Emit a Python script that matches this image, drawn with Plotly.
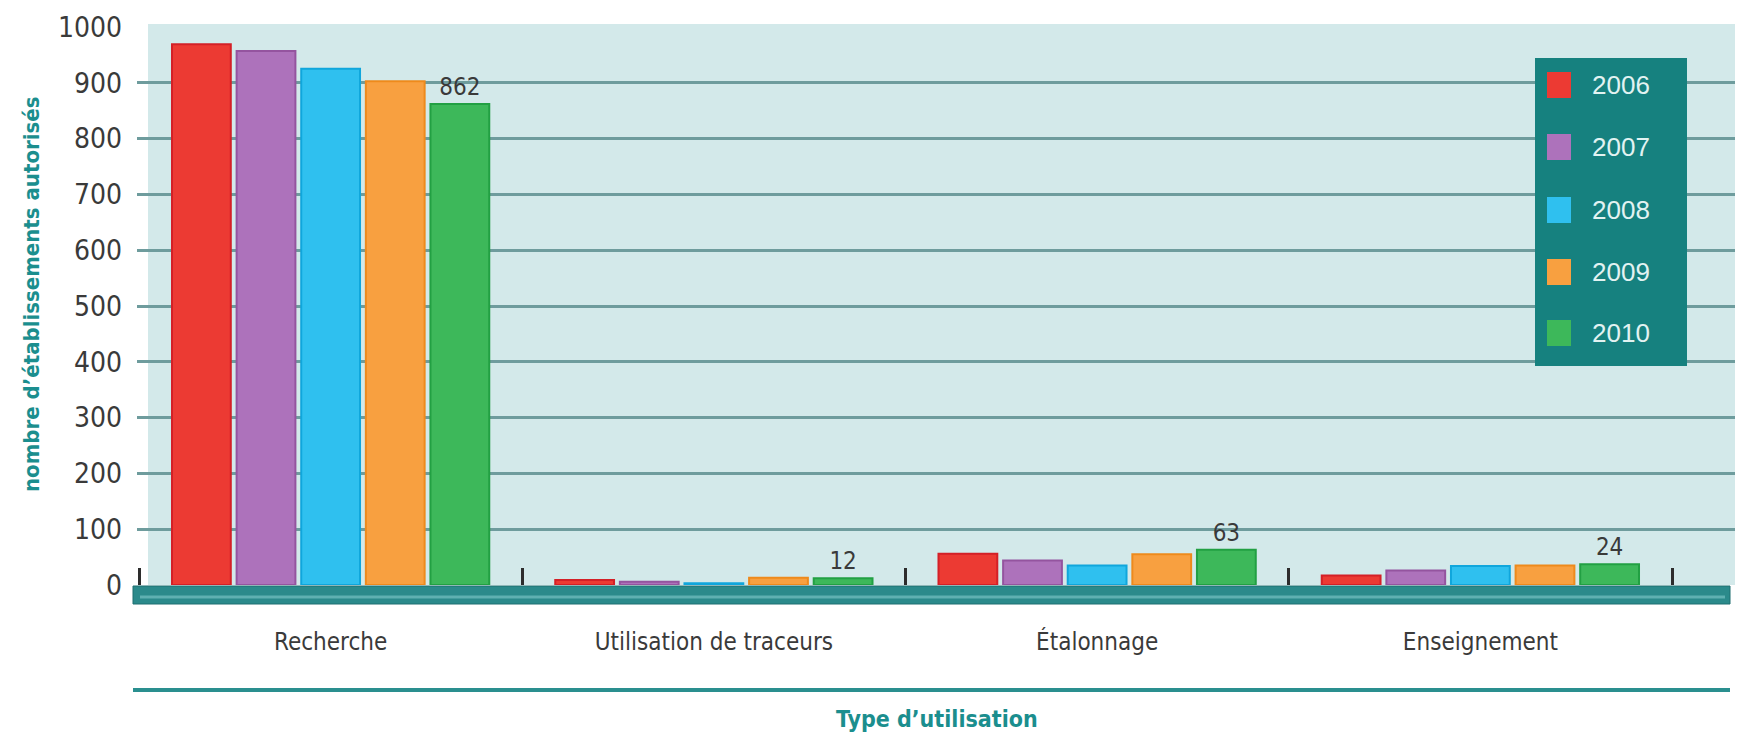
import plotly.graph_objects as go

categories = ["Recherche", "Utilisation de traceurs", "Étalonnage", "Enseignement"]
years = ["2006", "2007", "2008", "2009", "2010"]
values_2006 = [969, 9, 56, 17]
values_2007 = [957, 6, 44, 26]
values_2008 = [925, 3, 35, 34]
values_2009 = [903, 13, 55, 35]
values_2010 = [862, 12, 63, 37]
labels_2010 = ["862", "12", "63", "24"]
y_ticks = [0, 100, 200, 300, 400, 500, 600, 700, 800, 900, 1000]

series = [values_2006, values_2007, values_2008, values_2009, values_2010]
colors = ["#ec3a33", "#ad72bb", "#2fc0ef", "#f8a040", "#3db85a"]
edges = ["#d42027", "#94549f", "#10a6dc", "#ee8a1c", "#22a043"]

W, H = 1739, 738
L, R, T, B = 137, 1735, 27, 585
FONT = "Liberation Sans Narrow, DejaVu Sans Condensed, Liberation Sans, sans-serif"

def px(x):
    return (x - L) / (R - L)

def py(y):
    return (B - y) / (B - T)

fig = go.Figure()
for i, (yr, vals) in enumerate(zip(years, series)):
    fig.add_trace(go.Bar(
        name=yr, x=categories, y=vals,
        marker=dict(color=colors[i], line=dict(color=edges[i], width=2)),
        text=labels_2010 if i == 4 else None,
        textposition="outside" if i == 4 else "none",
        textfont=dict(family=FONT, size=24, color="#3a3a3a"),
        cliponaxis=False,
        showlegend=False,
    ))

shapes = []
# background panel
shapes.append(dict(type="rect", xref="paper", yref="paper", x0=px(148), x1=px(1735),
                   y0=py(585), y1=py(24), fillcolor="#d3e9ea", line=dict(width=0), layer="below"))
# floor bar
shapes.append(dict(type="rect", xref="paper", yref="paper", x0=px(133), x1=px(1730),
                   y0=py(604), y1=py(586), fillcolor="#2b8a8b", line=dict(color="#1f6e70", width=1), layer="above"))
shapes.append(dict(type="line", xref="paper", yref="paper", x0=px(140), x1=px(1725),
                   y0=py(597), y1=py(597), line=dict(color="#5fb0b1", width=3), layer="above"))
# line above axis title
shapes.append(dict(type="line", xref="paper", yref="paper", x0=px(133), x1=px(1730),
                   y0=py(690), y1=py(690), line=dict(color="#2a8f8f", width=4)))
# legend box
shapes.append(dict(type="rect", xref="paper", yref="paper", x0=px(1535), x1=px(1687),
                   y0=py(366), y1=py(58), fillcolor="#16817f", line=dict(width=0), layer="above"))

annotations = []
row_y = [85, 147, 210, 272, 333]
for i, yr in enumerate(years):
    shapes.append(dict(type="rect", xref="paper", yref="paper", x0=px(1547), x1=px(1571),
                       y0=py(row_y[i] + 13), y1=py(row_y[i] - 13), fillcolor=colors[i],
                       line=dict(width=0), layer="above"))
    annotations.append(dict(xref="paper", yref="paper", x=px(1590), y=py(row_y[i]), text=yr,
                            showarrow=False, xanchor="left", yanchor="middle",
                            font=dict(family="Liberation Sans, sans-serif", size=26, color="#e2f3f2")))

annotations.append(dict(xref="paper", yref="paper", x=px(31), y=py(294),
                        text="<b>nombre d’établissements autorisés</b>", textangle=-90,
                        showarrow=False, xanchor="center", yanchor="middle",
                        font=dict(family=FONT, size=22, color="#1b8e8e")))
annotations.append(dict(xref="paper", yref="paper", x=px(937), y=py(719),
                        text="<b>Type d’utilisation</b>", showarrow=False,
                        xanchor="center", yanchor="middle",
                        font=dict(family=FONT, size=23, color="#1b8e8e")))

cat_w = (1672 - 139) / 4.0
fig.update_layout(
    width=W, height=H, autosize=False,
    margin=dict(l=L, r=W - R, t=T, b=H - B, pad=0),
    paper_bgcolor="white", plot_bgcolor="rgba(0,0,0,0)",
    barmode="group", bargap=0.157, bargroupgap=0.09,
    shapes=shapes, annotations=annotations,
    showlegend=False,
    font=dict(family=FONT, color="#333333"),
)
fig.update_xaxes(
    range=[-0.5 - (139 - L) / cat_w, 3.5 + (R - 1672) / cat_w], showgrid=False, zeroline=False,
    showline=False, ticks="inside", tickson="boundaries", ticklen=17, tickwidth=3,
    tickcolor="#2d2d2d", ticklabelstandoff=40,
    tickfont=dict(family=FONT, size=24, color="#3a3a3a"),
)
fig.update_yaxes(
    range=[0, 1000], tickvals=y_ticks, ticktext=[str(v) for v in y_ticks],
    showgrid=True, gridcolor="#6e9c9d", gridwidth=2.5, zeroline=False, showline=False,
    ticks="", ticklabelstandoff=14,
    tickfont=dict(family=FONT, size=28, color="#3a3a3a"),
)

fig.write_html("out.html", config={"displayModeBar": False},
               post_script="document.body.style.margin='0';document.body.style.overflow='hidden';")
